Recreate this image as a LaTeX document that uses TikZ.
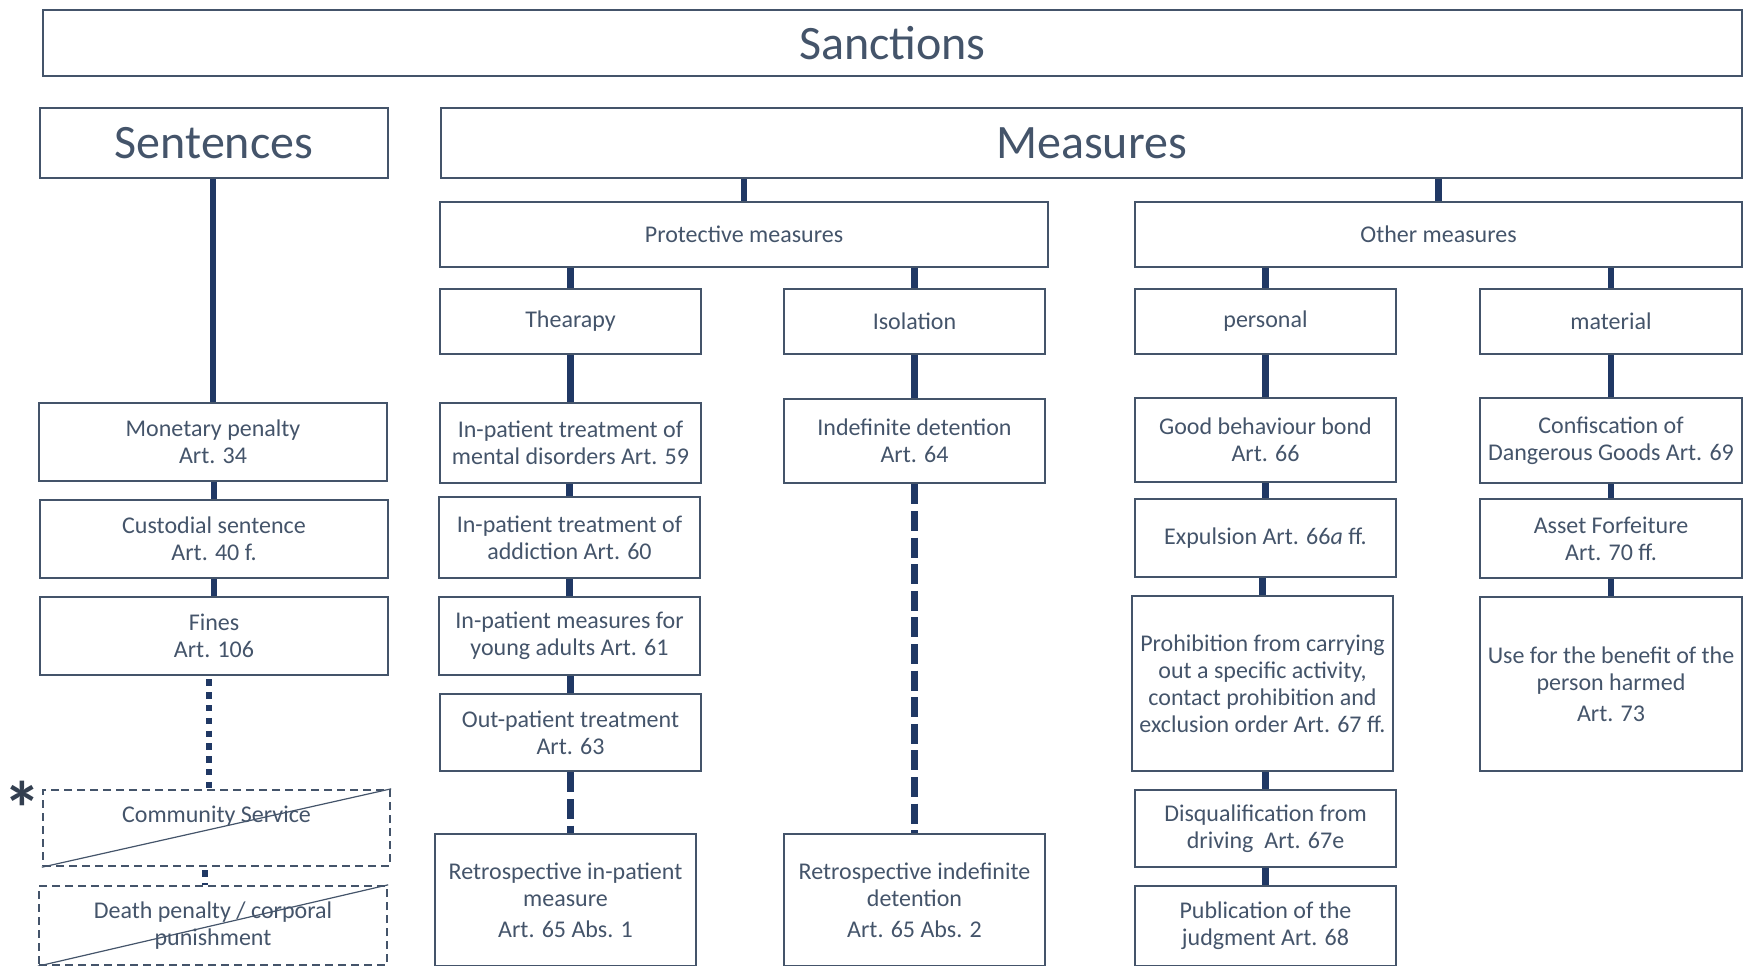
\documentclass[tikz,border=0pt]{standalone}
\usepackage{fontspec}
\setmainfont{Carlito}
\definecolor{textoazul}{HTML}{44546A}
\definecolor{lineaazul}{HTML}{203864}

% caja entre dos esquinas (en px)
\newcommand{\caja}[7][caja]{%
    \node[#1,minimum width={(#5-#3)*0.5pt},minimum height={(#6-#4)*0.5pt}] (#2) at ({(#3+#5)/2},{(#4+#6)/2}) {#7};}

\begin{document}
\begin{tikzpicture}[x=0.5pt,y=-0.5pt,
    caja/.style={draw=textoazul,line width=1.4pt,inner sep=0pt,text=textoazul,align=center,font=\fontsize{12}{13.5}\selectfont},
    titulo/.style={caja,font=\fontsize{24}{28}\selectfont},
    cajarota/.style={caja,line width=1.2pt,dash pattern=on 4pt off 2.5pt},
    enlace/.style={line width=3.3pt,lineaazul},
    enlacerayas/.style={enlace,dash pattern=on 10pt off 3.3pt},
    enlacepuntos/.style={enlace,line width=3pt,dash pattern=on 3.2pt off 3.2pt}]

    \useasboundingbox (0,0) rectangle (1757,965);
    \clip (0,0) rectangle (1757,965);

    %Titulos
    \caja[titulo]{sanc}{43}{10}{1742}{76}{Sanctions}
    \caja[titulo]{sent}{40}{108}{388}{178}{Sentences}
    \caja[titulo]{meas}{441}{108}{1742}{178}{Measures}

    %Nivel 2
    \caja{prot}{440}{202}{1048}{267}{Protective measures}
    \caja{other}{1135}{202}{1742}{267}{Other measures}
    \caja{ther}{440}{289}{701}{354}{Thearapy}
    \caja{iso}{784}{289}{1045}{354}{Isolation}
    \caja{pers}{1135}{289}{1396}{354}{personal}
    \caja{mat}{1480}{289}{1742}{354}{material}

    %Columna sentences
    \caja{mon}{39}{403}{387}{481}{Monetary penalty\\Art. 34}
    \caja{cust}{40}{500}{388}{578}{Custodial sentence\\Art. 40 f.}
    \caja{fines}{40}{597}{388}{675}{Fines\\Art. 106}
    \caja[cajarota]{comm}{43}{790}{390}{866}{Community Service\\\mbox{}}
    \caja[cajarota]{death}{39}{886}{387}{965}{Death penalty / corporal\\punishment}
    \draw[textoazul,line width=0.6pt] (comm.south west) -- (comm.north east);
    \draw[textoazul,line width=0.6pt] (death.south west) -- (death.north east);
    \node[text=textoazul!75!black,font=\fontsize{38}{38}\selectfont\bfseries] (ast) at (22,808) {*};

    %Columna therapy
    \caja{ment}{440}{403}{701}{483}{In-patient treatment of\\mental disorders Art. 59}
    \caja{addi}{439}{497}{700}{578}{In-patient treatment of\\addiction Art. 60}
    \caja{young}{439}{597}{700}{675}{In-patient measures for\\young adults Art. 61}
    \caja{outp}{440}{694}{701}{771}{Out-patient treatment\\Art. 63}
    \caja{retroa}{435}{834}{696}{966}{Retrospective in-patient\\measure\\[2pt]Art. 65 Abs. 1}

    %Columna isolation
    \caja{indef}{784}{399}{1045}{483}{Indefinite detention\\Art. 64}
    \caja{retrob}{784}{834}{1045}{966}{Retrospective indefinite\\detention\\[2pt]Art. 65 Abs. 2}

    %Columna personal
    \caja{good}{1135}{398}{1396}{482}{Good behaviour bond\\Art. 66}
    \caja{expu}{1135}{499}{1396}{577}{Expulsion Art. 66\textit{a} ff.}
    \caja{proh}{1132}{596}{1393}{771}{Prohibition from carrying\\out a specific activity,\\contact prohibition and\\exclusion order Art. 67 ff.}
    \caja{disq}{1135}{790}{1396}{867}{Disqualification from\\driving~ Art. 67e}
    \caja{publ}{1135}{886}{1396}{966}{Publication of the\\judgment Art. 68}

    %Columna material
    \caja{conf}{1480}{398}{1742}{483}{Confiscation of\\Dangerous Goods Art. 69}
    \caja{asset}{1480}{499}{1742}{578}{Asset Forfeiture\\Art. 70 ff.}
    \caja{use}{1480}{597}{1742}{771}{Use for the benefit of the\\person harmed\\[2pt]Art. 73}

    %Enlaces
    \foreach \a/\b in {sent/mon,mon/cust,cust/fines,meas/prot,meas/other,prot/ther,prot/iso,
        other/pers,other/mat,ther/ment,ment/addi,addi/young,young/outp,iso/indef,
        pers/good,good/expu,expu/proh,proh/disq,disq/publ,mat/conf,conf/asset,asset/use}{
        \draw[enlace] (\b.north |- \a.south) -- (\b.north);
    }
    \foreach \a/\b in {outp/retroa,indef/retrob}{
        \draw[enlacerayas] (\a.south) -- (\a.south |- \b.north);
    }
    \foreach \a/\b in {fines/comm,comm/death}{
        \draw[enlacepuntos,shorten <=1.5pt] ([xshift=-4pt]\b.north |- \a.south) -- ([xshift=-4pt]\b.north);
    }

\end{tikzpicture}
\end{document}
